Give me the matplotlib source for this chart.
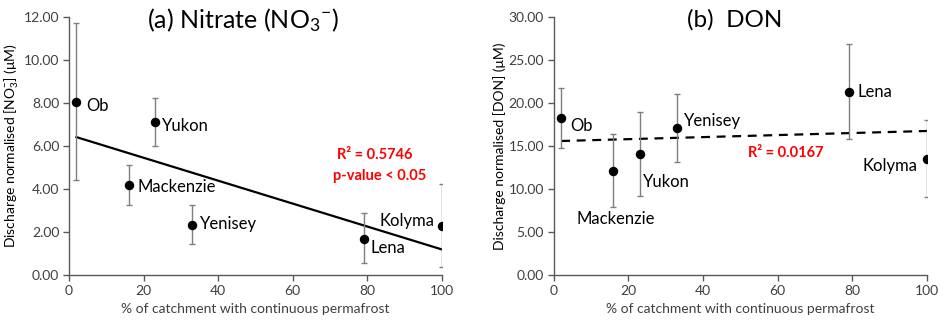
import matplotlib
matplotlib.use("Agg")
import matplotlib.pyplot as plt
import numpy as np

plt.rcParams['font.family'] = ['Lato', 'DejaVu Sans']
plt.rcParams['mathtext.fontset'] = 'custom'
plt.rcParams['mathtext.rm'] = 'Lato'
plt.rcParams['mathtext.it'] = 'Lato:italic'
plt.rcParams['mathtext.bf'] = 'Lato:bold'

# ---- data ----
rivers = ["Ob", "Mackenzie", "Yukon", "Yenisey", "Lena", "Kolyma"]
permafrost = [2, 16, 23, 33, 79, 100]

no3 = [8.04, 4.19, 7.11, 2.34, 1.70, 2.27]
no3_hi = [11.69, 5.10, 8.23, 3.26, 2.88, 4.22]
no3_lo = [4.41, 3.25, 6.00, 1.47, 0.56, 0.37]

don = [18.29, 12.10, 14.03, 17.13, 21.26, 13.53]
don_hi = [21.77, 16.43, 18.98, 21.07, 26.87, 17.98]
don_lo = [14.81, 7.93, 9.16, 13.14, 15.77, 9.09]

yticks_a = [0, 2, 4, 6, 8, 10, 12]
yticks_b = [0, 5, 10, 15, 20, 25, 30]
xticks = [0, 20, 40, 60, 80, 100]

# label positions (layout)
lab_a = {"Ob": (4.6, 7.85, 'left'), "Mackenzie": (18.4, 4.08, 'left'),
         "Yukon": (25.0, 6.94, 'left'), "Yenisey": (35.1, 2.36, 'left'),
         "Lena": (80.9, 1.28, 'left'), "Kolyma": (97.9, 2.53, 'right')}
lab_b = {"Ob": (4.5, 17.32, 'left'), "Mackenzie": (6.1, 6.49, 'left'),
         "Yukon": (23.9, 10.79, 'left'), "Yenisey": (35.0, 17.94, 'left'),
         "Lena": (81.4, 21.22, 'left'), "Kolyma": (97.5, 12.68, 'right')}

W, H = 944, 328
fig = plt.figure(figsize=(W / 100, H / 100), dpi=100)
ax1 = fig.add_axes([69 / W, 52.7 / H, (442 - 69) / W, (275.3 - 16.7) / H])
ax2 = fig.add_axes([553.7 / W, 52.7 / H, (927 - 553.7) / W, (275.3 - 16.7) / H])

txtc = '#404040'
for ax, y, hi, lo, yt, labs, dashed in [
        (ax1, no3, no3_hi, no3_lo, yticks_a, lab_a, False),
        (ax2, don, don_hi, don_lo, yticks_b, lab_b, True)]:
    x = np.array(permafrost, float)
    y = np.array(y)
    yerr = np.vstack([y - np.array(lo), np.array(hi) - y])
    ax.errorbar(x, y, yerr=yerr, fmt='o', color='black', ms=5.8,
                ecolor='#7f7f7f', elinewidth=1.0, capsize=2.5, capthick=1.0, zorder=3)
    m, b = np.polyfit(x, y, 1)
    xs = np.array([x.min(), x.max()])
    ax.plot(xs, m * xs + b, color='black', lw=1.6,
            ls=(0, (4, 3)) if dashed else '-', zorder=2)
    for name in rivers:
        lx, ly, ha = labs[name]
        ax.text(lx, ly, name, ha=ha, va='center', fontsize=12, color='black')
    ax.set_xlim(0, 100)
    ax.set_ylim(yt[0], yt[-1])
    ax.set_xticks(xticks)
    ax.set_yticks(yt)
    ax.set_yticklabels([f"{v:.2f}" for v in yt])
    for s in ['top', 'right']:
        ax.spines[s].set_visible(False)
    for s in ['left', 'bottom']:
        ax.spines[s].set_color('#595959')
        ax.spines[s].set_linewidth(1.0)
    ax.tick_params(axis='both', direction='out', length=4, width=1.0,
                   color='#595959', labelsize=10, labelcolor=txtc, pad=3)
    ax.set_xlabel('% of catchment with continuous permafrost', fontsize=10,
                  color=txtc, labelpad=4)
    ax.patch.set_alpha(0)

ax1.set_ylabel('Discharge normalised [NO$_3^{-}$] (μM)', fontsize=10, color='black', labelpad=2)
ax2.set_ylabel('Discharge normalised [DON] (μM)', fontsize=10, color='black', labelpad=2)

red = '#ff0000'
ax1.text(82, 5.58, 'R² = 0.5746', color=red, fontweight='bold', fontsize=10.5, ha='center', va='center')
ax1.text(83.4, 4.62, 'p-value < 0.05', color=red, fontweight='bold', fontsize=10.5, ha='center', va='center')
ax2.text(62.2, 14.2, 'R² = 0.0167', color=red, fontweight='bold', fontsize=10.5, ha='center', va='center')

fig.text(147 / W, 1 - 20 / H, '(a) Nitrate (NO$_3$$^{-}$)', fontsize=18, ha='left', va='center')
fig.text(735 / W, 1 - 20 / H, '(b)  DON', fontsize=17.5, ha='center', va='center')

fig.savefig('out.png', dpi=100)
